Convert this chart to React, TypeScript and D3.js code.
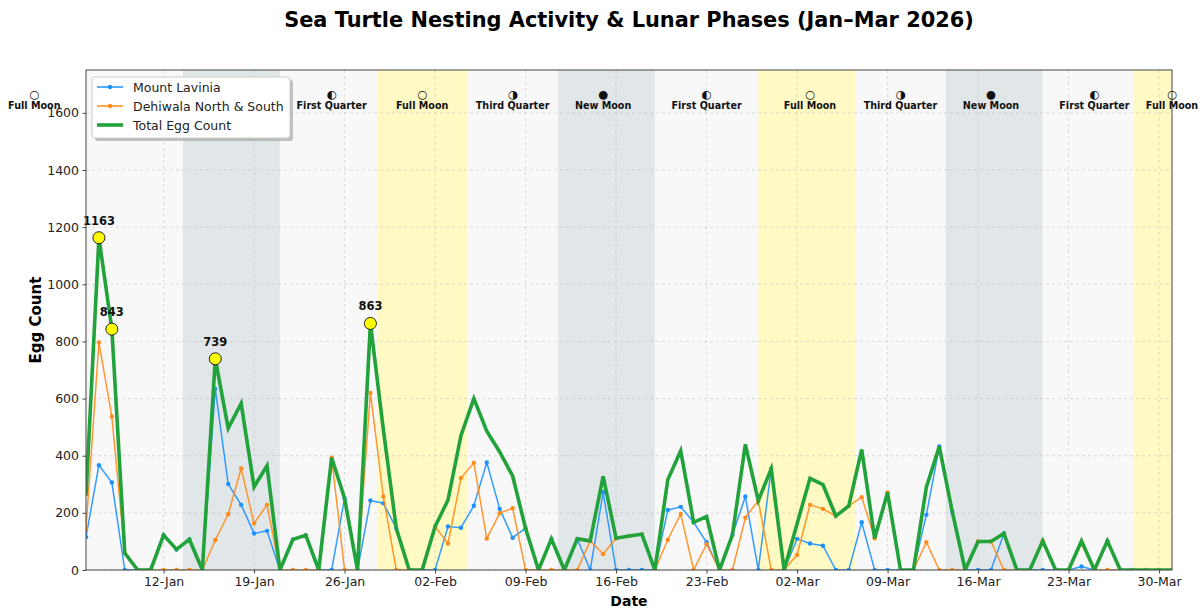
import React, { useEffect, useRef } from 'react';
import * as d3 from 'd3';

// daily counts, 06-Jan-2026 .. 31-Mar-2026
const startDate = new Date(2026, 0, 6);
const endDate = new Date(2026, 2, 31);
const dates = d3.timeDay.range(startDate, d3.timeDay.offset(endDate, 1));

const mountLavinia = [
  115, 367, 306, 0, 0, 0, 122, 72, 107, 0,
  634, 301, 228, 128, 137, 0, 107, 122, 0, 0,
  251, 0, 243, 234, 146, 0, 0, 0, 152, 148,
  225, 376, 214, 113, 146, 0, 109, 0, 109, 0,
  272, 0, 0, 0, 0, 210, 221, 167, 97, 0,
  123, 257, 0, 354, 0, 109, 93, 85, 0, 0,
  167, 0, 0, 0, 0, 193, 432, 205, 0, 0,
  0, 128, 0, 0, 0, 0, 0, 12, 0, 102,
  0, 0, 0, 0, 0,
];

const dehiwala = [
  145, 796, 537, 59, 0, 0, 0, 0, 0, 0,
  105, 195, 355, 163, 228, 0, 0, 0, 0, 393,
  0, 0, 620, 257, 0, 0, 0, 152, 93, 322,
  375, 110, 199, 216, 0, 0, 0, 0, 0, 102,
  56, 111, 119, 125, 0, 106, 196, 0, 90, 0,
  0, 183, 243, 0, 0, 53, 228, 214, 189, 224,
  255, 111, 271, 0, 0, 97, 0, 0, 0, 100,
  100, 0, 0, 0, 102, 0, 0, 90, 0, 0,
  0, 0, 0, 0, 0,
];

const phaseDates = [
  '2026-01-02', '2026-01-10', '2026-01-17', '2026-01-25', '2026-02-01',
  '2026-02-08', '2026-02-15', '2026-02-23', '2026-03-03', '2026-03-10',
  '2026-03-17', '2026-03-25', '2026-03-31',
];
const phaseNames = [
  'Full Moon', 'Third Quarter', 'New Moon', 'First Quarter', 'Full Moon',
  'Third Quarter', 'New Moon', 'First Quarter', 'Full Moon', 'Third Quarter',
  'New Moon', 'First Quarter', 'Full Moon',
];

const yTicks = [0, 200, 400, 600, 800, 1000, 1200, 1400, 1600];

const icons = {
  'Full Moon': '\u{1F315}',
  'New Moon': '\u{1F311}',
  'First Quarter': '\u{1F313}',
  'Third Quarter': '\u{1F317}',
};
const bandColors = {
  'Full Moon': '#fff9c4',
  'New Moon': '#e1e6e9',
  'First Quarter': '#f8f8f8',
  'Third Quarter': '#f8f8f8',
};

const font = 'DejaVu Sans, sans-serif';

const TurtleChart = () => {
  const svgRef = useRef<SVGSVGElement>(null);

  useEffect(() => {
    document.body.style.margin = '0';
    const svg = d3.select(svgRef.current);
    svg.selectAll('*').remove();

    const width = 1203;
    const height = 609;
    const margin = { top: 70, right: 31, bottom: 39, left: 86 };
    const x0 = margin.left, x1 = width - margin.right;
    const y0 = height - margin.bottom, y1 = margin.top;

    const total = mountLavinia.map((v, i) => v + dehiwala[i]);
    const parse = d3.timeParse('%Y-%m-%d');
    const phases = phaseDates.map((d, i) => ({ date: parse(d) as Date, name: phaseNames[i] }));

    const x = d3.scaleTime().domain([startDate, endDate]).range([x0, x1]);
    const y = d3.scaleLinear().domain([0, 1750]).range([y0, y1]);

    svg.append('defs').append('clipPath').attr('id', 'plotClip')
      .append('rect').attr('x', x0).attr('y', y1).attr('width', x1 - x0).attr('height', y0 - y1);

    // background
    svg.append('rect').attr('x', x0).attr('y', y1).attr('width', x1 - x0).attr('height', y0 - y1)
      .attr('fill', '#f8f8f8');

    // lunar phase bands (midpoint to midpoint)
    const bands = svg.append('g').attr('clip-path', 'url(#plotClip)');
    phases.forEach((p, i) => {
      const t = +p.date;
      const prev = i > 0 ? (t + +phases[i - 1].date) / 2 : t - 4 * 86400000;
      const next = i < phases.length - 1 ? (t + +phases[i + 1].date) / 2 : t + 4 * 86400000;
      bands.append('rect')
        .attr('x', x(new Date(prev)))
        .attr('y', y1)
        .attr('width', x(new Date(next)) - x(new Date(prev)))
        .attr('height', y0 - y1)
        .attr('fill', bandColors[p.name]);
    });

    // grid
    const grid = svg.append('g');
    const xTicks = d3.timeMonday.range(startDate, d3.timeDay.offset(endDate, 1));
    xTicks.forEach(t => {
      grid.append('line').attr('x1', x(t)).attr('x2', x(t)).attr('y1', y1).attr('y2', y0)
        .attr('stroke', '#b0b0b0').attr('stroke-opacity', 0.5).attr('stroke-dasharray', '3,3').attr('stroke-width', 0.8);
    });
    yTicks.forEach(t => {
      grid.append('line').attr('x1', x0).attr('x2', x1).attr('y1', y(t)).attr('y2', y(t))
        .attr('stroke', '#b0b0b0').attr('stroke-opacity', 0.5).attr('stroke-dasharray', '3,3').attr('stroke-width', 0.8);
    });

    // lines
    const plot = svg.append('g').attr('clip-path', 'url(#plotClip)');
    const line = d3.line<number>().x((d, i) => x(dates[i])).y(d => y(d));

    const series = [
      { values: mountLavinia, color: '#1e90ff' },
      { values: dehiwala, color: '#ff8c1a' },
    ];
    series.forEach(s => {
      plot.append('path').datum(s.values).attr('d', line)
        .attr('fill', 'none').attr('stroke', s.color).attr('stroke-width', 1.5).attr('stroke-opacity', 0.9);
      plot.selectAll(null).data(s.values).enter().append('circle')
        .attr('cx', (d, i) => x(dates[i])).attr('cy', d => y(d)).attr('r', 2.2)
        .attr('fill', s.color);
    });

    plot.append('path').datum(total).attr('d', line)
      .attr('fill', 'none').attr('stroke', '#22a23a').attr('stroke-width', 3.6)
      .attr('stroke-linejoin', 'miter');

    // peaks
    const peaks = total.map((v, i) => ({ v, d: dates[i] })).filter(p => p.v > 700);
    peaks.forEach(p => {
      svg.append('circle').attr('cx', x(p.d)).attr('cy', y(p.v)).attr('r', 6)
        .attr('fill', '#ffff00').attr('stroke', '#222').attr('stroke-width', 1);
      svg.append('text').attr('x', x(p.d)).attr('y', y(p.v) - 13)
        .attr('text-anchor', 'middle').attr('font-family', font).attr('font-size', 11.5)
        .attr('font-weight', 'bold').attr('fill', '#111').text(String(p.v));
    });

    // frame
    svg.append('rect').attr('x', x0).attr('y', y1).attr('width', x1 - x0).attr('height', y0 - y1)
      .attr('fill', 'none').attr('stroke', '#444').attr('stroke-width', 1);

    // axes
    const xAxis = svg.append('g').attr('transform', `translate(0,${y0})`)
      .call(d3.axisBottom(x).tickValues(xTicks).tickFormat(d3.timeFormat('%d-%b') as any)
        .tickSize(3.5).tickPadding(3.5));
    xAxis.select('.domain').remove();
    xAxis.selectAll('text').attr('font-family', font).attr('font-size', 12.5).attr('fill', '#222');
    xAxis.selectAll('line').attr('stroke', '#444');

    const yAxis = svg.append('g').attr('transform', `translate(${x0},0)`)
      .call(d3.axisLeft(y).tickValues(yTicks).tickFormat(d3.format('d') as any)
        .tickSize(3.5).tickPadding(3.5));
    yAxis.select('.domain').remove();
    yAxis.selectAll('text').attr('font-family', font).attr('font-size', 12.5).attr('fill', '#222');
    yAxis.selectAll('line').attr('stroke', '#444');

    // moon labels
    phases.forEach(p => {
      const g = svg.append('g').attr('transform', `translate(${x(p.date)},0)`);
      g.append('text').attr('y', 99).attr('text-anchor', 'middle').attr('font-family', font)
        .attr('font-size', 10).attr('fill', '#111').text(icons[p.name]);
      g.append('text').attr('y', 109).attr('text-anchor', 'middle').attr('font-family', font)
        .attr('font-size', 9.6).attr('font-weight', 'bold').attr('fill', '#111').text(p.name);
    });

    // legend
    const lg = svg.append('g').attr('transform', 'translate(92,77)');
    lg.append('rect').attr('x', 3).attr('y', 3).attr('width', 198).attr('height', 61).attr('rx', 3)
      .attr('fill', '#999').attr('opacity', 0.6);
    lg.append('rect').attr('width', 198).attr('height', 61).attr('rx', 3)
      .attr('fill', '#fff').attr('stroke', '#ccc').attr('stroke-width', 1);
    const items = [
      { label: 'Mount Lavinia', color: '#1e90ff', w: 1.5, dot: true },
      { label: 'Dehiwala North & South', color: '#ff8c1a', w: 1.5, dot: true },
      { label: 'Total Egg Count', color: '#22a23a', w: 3.6, dot: false },
    ];
    items.forEach((it, i) => {
      const yy = 10 + i * 19;
      lg.append('line').attr('x1', 5).attr('x2', 31).attr('y1', yy).attr('y2', yy)
        .attr('stroke', it.color).attr('stroke-width', it.w);
      if (it.dot) lg.append('circle').attr('cx', 18).attr('cy', yy).attr('r', 2.2).attr('fill', it.color);
      lg.append('text').attr('x', 41).attr('y', yy + 4.5).attr('font-family', font)
        .attr('font-size', 12.5).attr('fill', '#222').text(it.label);
    });

    // titles
    svg.append('text').attr('x', (x0 + x1) / 2).attr('y', 27).attr('text-anchor', 'middle')
      .attr('font-family', font).attr('font-size', 20.9).attr('font-weight', 'bold').attr('fill', '#000')
      .text('Sea Turtle Nesting Activity & Lunar Phases (Jan\u2013Mar 2026)');
    svg.append('text').attr('x', (x0 + x1) / 2).attr('y', 606).attr('text-anchor', 'middle')
      .attr('font-family', font).attr('font-size', 14).attr('font-weight', 'bold').attr('fill', '#000')
      .text('Date');
    svg.append('text').attr('transform', `translate(41,${(y0 + y1) / 2}) rotate(-90)`)
      .attr('text-anchor', 'middle')
      .attr('font-family', font).attr('font-size', 15).attr('font-weight', 'bold').attr('fill', '#000')
      .text('Egg Count');
  }, []);

  return <svg ref={svgRef} width={1203} height={609} style={{ display: 'block', background: '#fff' }}></svg>;
};

export default function App() {
  return <TurtleChart />;
}
